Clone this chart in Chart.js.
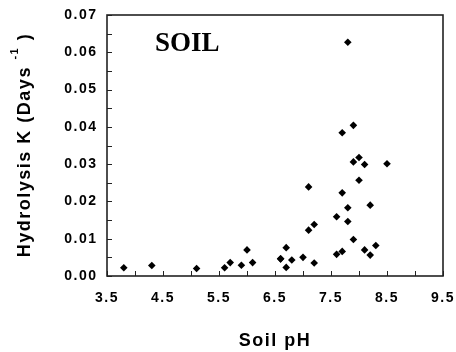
<!DOCTYPE html>
<html>
<head>
<meta charset="utf-8">
<script src="https://cdn.jsdelivr.net/npm/chart.js@4/dist/chart.umd.min.js"></script>
<style>
  html,body{margin:0;padding:0;background:#fff;}
  #wrap{position:relative;width:456px;height:352px;}
</style>
</head>
<body>
<div id="wrap"><canvas id="c"></canvas></div>
<script>
/* Soil hydrolysis rate vs pH — scatter */
const soilPH = [3.8, 4.3, 5.1, 5.6, 5.7, 5.9, 6.0, 6.1, 6.6, 6.6, 6.7, 6.7, 6.8, 7.0, 7.1, 7.1, 7.2, 7.2,
                7.6, 7.6, 7.7, 7.7, 7.7, 7.8, 7.8, 7.8, 7.9, 7.9, 7.9, 8.0, 8.0, 8.1, 8.1, 8.2, 8.2, 8.3, 8.5];
const hydroK = [0.0022, 0.0028, 0.0020, 0.0022, 0.0036, 0.0029, 0.0070, 0.0036, 0.0046, 0.0046, 0.0076, 0.0023, 0.0043, 0.0050, 0.0239, 0.0123, 0.0138, 0.0035,
                0.0159, 0.0058, 0.0223, 0.0066, 0.0384, 0.0183, 0.0146, 0.0627, 0.0306, 0.0098, 0.0404, 0.0318, 0.0257, 0.0299, 0.0070, 0.0190, 0.0056, 0.0082, 0.0301];
const xTicks = [3.5, 4.5, 5.5, 6.5, 7.5, 8.5, 9.5];
const yTicks = [0.00, 0.01, 0.02, 0.03, 0.04, 0.05, 0.06, 0.07];

const FONT = "'Liberation Sans', Arial, sans-serif";

const frame = {
  id:"frame",
  beforeDraw(chart){ chart.ctx.letterSpacing = "1.5px"; },
  afterDraw(chart){
    const {ctx, chartArea:a, scales} = chart;
    ctx.save();
    ctx.letterSpacing = "0px";
    // inner tick marks
    ctx.strokeStyle = "#222"; ctx.lineWidth = 1;
    ctx.beginPath();
    scales.x.ticks.forEach(t=>{
      const px = Math.round(scales.x.getPixelForValue(t.value)) + 0.5;
      ctx.moveTo(px, a.bottom); ctx.lineTo(px, a.bottom - 5);
    });
    scales.y.ticks.forEach(t=>{
      const py = Math.round(scales.y.getPixelForValue(t.value)) + 0.5;
      ctx.moveTo(a.left, py); ctx.lineTo(a.left + 5, py);
    });
    ctx.stroke();
    // box
    ctx.strokeStyle = "#222"; ctx.lineWidth = 1.6;
    ctx.strokeRect(a.left, a.top, a.right - a.left, a.bottom - a.top);
    // panel label
    ctx.fillStyle = "#000";
    ctx.font = "bold 27px 'Liberation Serif', 'Times New Roman', serif";
    ctx.textBaseline = "alphabetic"; ctx.textAlign = "left";
    ctx.fillText("SOIL", a.left + 48, a.top + 36);
    // y title with superscript
    ctx.translate(25, 145);
    ctx.rotate(-Math.PI/2);
    const main = "Hydrolysis K (Days ", sup = "-1", tail = " )";
    ctx.letterSpacing = "1.5px";
    ctx.font = "bold 18px " + FONT;
    const w1 = ctx.measureText(main).width, w3 = ctx.measureText(tail).width;
    ctx.font = "bold 11px " + FONT;
    const w2 = ctx.measureText(sup).width;
    let x = -(w1 + w2 + w3) / 2;
    ctx.font = "bold 18px " + FONT; ctx.fillText(main, x, 5); x += w1;
    ctx.font = "bold 11px " + FONT; ctx.fillText(sup, x, -7); x += w2;
    ctx.font = "bold 18px " + FONT; ctx.fillText(tail, x, 5);
    ctx.restore();
  }
};

new Chart(document.getElementById("c"), {
  type:"scatter",
  data:{ datasets:[{
    data: soilPH.map((v,i)=>({x:v, y:hydroK[i]})),
    pointStyle:"rectRot", pointRadius:3.8, pointHoverRadius:3.8,
    backgroundColor:"#000", borderColor:"#000", borderWidth:0
  }]},
  options:{
    responsive:true, maintainAspectRatio:false, animation:false,
    layout:{ padding:{ left:0, top:15, right:13, bottom:0 } },
    plugins:{ legend:{display:false}, tooltip:{enabled:false} },
    scales:{
      x:{
        type:"linear", min:3.5, max:9.5,
        border:{display:false},
        grid:{ display:false, drawTicks:false },
        ticks:{ stepSize:0.5, autoSkip:false, maxRotation:0, minRotation:0, padding:14, color:"#000",
          font:{family:FONT, size:14, weight:"bold"},
          callback:(v)=> xTicks.some(t=>Math.abs(t-v)<1e-6) ? v.toFixed(1) : "" },
        title:{ display:true, text:"Soil pH", color:"#000", padding:{top:0, bottom:0},
          font:{family:FONT, size:18, weight:"bold"} },
        afterFit(s){ s.height = 76; s.paddingLeft = 0; s.paddingRight = 0; }
      },
      y:{
        type:"linear", min:0, max:0.07,
        border:{display:false},
        grid:{ display:false, drawTicks:false },
        ticks:{ stepSize:0.005, autoSkip:false, padding:9.5, color:"#000",
          font:{family:FONT, size:14, weight:"bold"},
          callback:(v)=> yTicks.some(t=>Math.abs(t-v)<1e-6) ? v.toFixed(2) : "" },
        afterFit(s){ s.width = 107; s.paddingTop = 0; s.paddingBottom = 0; }
      }
    }
  },
  plugins:[frame]
});
</script>
</body>
</html>
